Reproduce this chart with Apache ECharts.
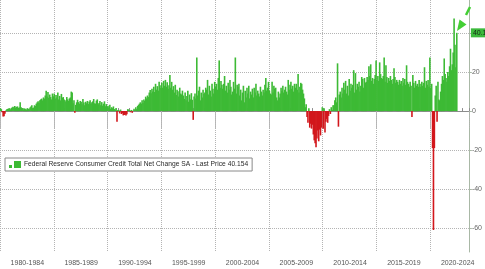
<!DOCTYPE html>
<html><head><meta charset="utf-8">
<script src="https://cdn.jsdelivr.net/npm/echarts@6/dist/echarts.min.js"></script>
<style>html,body{margin:0;padding:0;background:#fff}#c{width:485px;height:269px}</style>
</head><body><div id="c"></div>
<script>
const seriesName = 'Federal Reserve Consumer Credit Total Net Change SA - Last Price 40.154';
const periodLabels = ['1980-1984','1985-1989','1990-1994','1995-1999','2000-2004','2005-2009','2010-2014','2015-2019','2020-2024'];
const startYear = 1980;
const axisMonthCount = 523;
const lastPrice = 40.154;

// monthly net change, billions USD
const c1980_84 = [
  1.5, 1.0, -0.6, -2.8, -2.6, -1.4, 0.3, 0.9, 1.1, 1.3, 1.5, 0.9,
  1.4, 1.8, 2.2, 1.9, 2.6, 1.8, 2.2, 2.4, 1.6, 1.9, 4.6, 2.0,
  1.2, 1.6, 0.9, 1.4, 1.0, 0.8, 1.5, 1.2, 0.9, 1.8, 2.3, 3.0,
  1.5, 1.8, 3.0, 2.6, 3.8, 4.5, 5.0, 4.2, 5.6, 6.0, 6.4, 5.5,
  7.0, 6.4, 8.0, 10.5, 7.5, 9.8, 6.8, 8.5, 7.2, 6.0, 9.0, 7.6
];
const c1985_89 = [
  9.0, 6.5, 8.2, 7.0, 9.5, 6.0, 7.8, 5.5, 8.8, 6.8, 7.2, 6.0,
  5.5, 4.8, 7.2, 6.0, 5.2, 6.5, 7.0, 10.0, 9.5, 4.0, 5.5, -0.8,
  3.2, 4.5, 5.8, 4.6, 3.8, 5.2, 4.8, 3.5, 6.2, 4.4, 3.0, 4.8,
  4.0, 5.2, 3.6, 4.8, 5.5, 3.8, 4.5, 5.0, 6.2, 4.0, 3.8, 5.4,
  6.0, 3.5, 4.2, 5.2, 3.0, 4.6, 2.8, 3.8, 5.0, 2.5, 3.6, 2.2
];
const c1990_94 = [
  2.8, 1.8, 3.2, 1.2, 2.0, 1.5, 2.4, 1.0, 0.8, 1.6, -5.5, 0.6,
  0.5, -1.2, 0.8, -1.5, -1.0, -2.2, -2.0, -1.8, -2.3, -1.6, 1.0, 0.8,
  0.4, -0.6, 0.6, -0.9, 0.3, 1.2, 0.5, 2.0, 1.0, 2.6, 3.2, 3.8,
  4.5, 3.8, 5.6, 4.2, 6.0, 5.2, 7.4, 6.5, 8.0, 7.2, 9.5, 10.8,
  9.2, 11.5, 10.0, 12.5, 9.8, 14.0, 11.0, 12.8, 10.5, 15.0, 13.2, 11.8
];
const c1995_99 = [
  14.5, 12.0, 15.5, 13.0, 16.0, 12.5, 14.8, 11.5, 13.2, 18.5, 12.0, 15.0,
  11.0, 12.8, 9.5, 13.5, 8.2, 11.0, 10.2, 7.5, 12.0, 9.0, 8.5, 10.5,
  8.0, 6.2, 9.5, 5.5, 7.8, 10.5, 4.8, 8.5, 6.0, 9.2, 5.8, -4.5,
  7.5, 9.0, 6.5, 27.5, 8.0, 10.5, 12.5, 5.5, 9.5, 7.0, 11.0, 8.8,
  9.5, 12.0, 11.0, 16.0, 8.5, 13.0, 10.5, 7.5, 14.0, 11.5, 9.0, 15.0
];
const c2000_04 = [
  12.5, 14.0, 11.0, 17.0, 26.0, 12.0, 15.5, 13.5, 11.5, 14.0, 18.0, 10.5,
  13.0, 9.5, 14.5, 11.0, 16.0, 12.5, 8.5, 10.0, 15.0, 11.5, 27.5, 9.0,
  13.5, 12.5, 14.0, 8.0, 11.0, 5.5, 9.5, 13.0, 4.5, 10.5, 7.0, 12.0,
  9.0, 13.0, 6.5, 10.0, 8.5, 11.5, 7.0, 12.0, 9.5, 14.0, 8.0, 10.5,
  9.0, 7.5, 12.5, 10.0, 8.0, 11.0, 9.5, 13.5, 17.0, 10.5, 12.0, 15.0
];
const c2005_09 = [
  10.5, 9.0, 8.5, 15.0, 9.5, 13.0, 11.5, 12.0, 7.0, 5.5, 10.0, 7.0,
  9.0, 12.0, 10.5, 13.0, 9.5, 11.0, 12.5, 10.0, 8.5, 16.0, 11.0, 13.5,
  15.0, 11.5, 13.0, 10.0, 14.0, 12.0, 14.0, 11.0, 19.0, 9.5, 12.5, 14.5,
  14.0, 11.0, 9.0, 6.5, 2.0, 3.5, -3.0, -6.0, 1.5, -8.5, -6.5, -9.0,
  -7.0, -12.0, -15.0, -16.5, -18.5, -14.0, -10.0, -15.5, -9.5, -12.5, -8.5, 2.0
];
const c2010_14 = [
  -9.0, 1.5, -11.0, -5.5, -4.0, -6.0, -2.5, 1.0, -1.5, 2.0, 0.5, 3.0,
  3.0, 5.5, 7.0, 4.5, 24.5, -8.0, 8.5, 10.0, 7.0, 12.0, 9.0, 14.5,
  11.0, 15.5, 9.0, 13.0, 8.0, 16.5, 10.5, 14.0, 12.0, 13.5, 21.0, 9.5,
  19.5, 11.0, 14.0, 12.5, 15.0, 10.0, 13.0, 17.5, 16.5, 12.0, 17.0, 14.5,
  15.0, 17.5, 16.0, 23.0, 18.0, 24.0, 15.5, 17.0, 14.0, 16.5, 18.5, 26.0
];
const c2015_19 = [
  16.0, 18.0, 15.5, 25.0, 19.0, 17.0, 16.5, 18.0, 27.5, 15.0, 23.5, 17.5,
  14.5, 17.0, 15.5, 18.0, 16.0, 14.0, 16.5, 22.0, 17.5, 14.5, 16.0, 15.0,
  13.5, 16.0, 14.0, 15.5, 13.0, 17.0, 14.5, 16.5, 13.5, 23.5, 15.0, 14.0,
  12.5, 15.0, 13.0, -3.0, 18.5, 14.5, 12.0, 15.5, 13.0, 14.0, 12.5, 16.0,
  14.0, 12.5, 15.0, 13.0, 14.5, 22.5, 12.0, 15.5, 13.5, 16.0, 12.5, 27.5
];
const c2020_22 = [
  12.0, 14.0, -19.0, -61.0, -19.0, 8.0, 13.0, -5.5, 15.0, 6.0, 5.5, 10.0,
  14.0, 18.0, 16.0, 27.0, 19.0, 17.0, 15.0, 20.0, 18.0, 23.0, 32.0, 21.0,
  24.0, 30.0, 47.5, 34.0, 22.5, 40.154
];

const GREEN = '#3dba35';
const RED = '#d2171c';
const GRID_LINE = '#b4b4b4';
const FONT = '"Liberation Sans", Arial, sans-serif';

const months = [];
for (let i = 0; i < axisMonthCount; i++) {
  months.push((startYear + Math.floor(i / 12)) + '-' + String(i % 12 + 1).padStart(2, '0'));
}
const values = [].concat(c1980_84, c1985_89, c1990_94, c1995_99, c2000_04, c2005_09, c2010_14, c2015_19, c2020_22);
const barData = values.map(v => v < 0 ? { value: v, itemStyle: { color: RED } } : v);

const chart = echarts.init(document.getElementById('c'), null, { renderer: 'canvas' });
const gridRect = { left: -2, right: 16, top: 0, bottom: 17 };

chart.setOption({
  animation: false,
  backgroundColor: '#ffffff',
  textStyle: { fontFamily: FONT },
  grid: [Object.assign({}, gridRect), Object.assign({}, gridRect)],
  legend: {
    left: 5, top: 158,
    padding: [3, 4, 3, 4],
    itemWidth: 12, itemHeight: 7, itemGap: 3,
    icon: 'path://M0,4h3v3h-3z M5,0h7v7h-7z',
    backgroundColor: '#ffffff',
    borderColor: '#8a8a8a', borderWidth: 1,
    textStyle: { fontSize: 6.7, color: '#2a2a2a', fontFamily: FONT, padding: [0, 0, 0, -2] },
    data: [{ name: seriesName, itemStyle: { color: GREEN } }],
    z: 10
  },
  xAxis: [{
    type: 'category', gridIndex: 0, data: months, boundaryGap: true,
    axisLine: { show: true, lineStyle: { color: '#8c8c8c', width: 1 } },
    axisTick: { show: true, inside: false, length: 17, interval: (i) => i % 60 === 0,
      lineStyle: { color: GRID_LINE, type: 'dotted' } },
    axisLabel: { show: true, interval: (i) => i % 60 === 30, margin: 8,
      fontSize: 7, color: '#555', fontFamily: FONT,
      formatter: (v, i) => periodLabels[Math.floor(i / 60)] },
    splitLine: { show: true, interval: (i) => i % 60 === 0,
      lineStyle: { color: GRID_LINE, type: 'dotted', width: 1 } }
  }, {
    type: 'category', gridIndex: 1, data: months, boundaryGap: true,
    axisLine: { show: false },
    axisTick: { show: true, inside: true, length: 3, interval: (i) => i % 12 === 0,
      lineStyle: { color: '#8c8c8c' } },
    axisLabel: { show: false },
    splitLine: { show: false }
  }],
  yAxis: [{
    type: 'value', gridIndex: 0, position: 'right',
    min: -72.3, max: 57, splitNumber: 6, minInterval: 20, maxInterval: 20,
    axisLine: { show: true, lineStyle: { color: '#a9b8a6' } },
    axisTick: { show: true, length: 3, lineStyle: { color: '#a9b8a6' } },
    axisLabel: { show: true, fontSize: 7, color: '#666', margin: 3, fontFamily: FONT,
      showMinLabel: false, showMaxLabel: false },
    splitLine: { show: true, showMinLine: false, showMaxLine: false,
      lineStyle: { color: GRID_LINE, type: 'dotted', width: 1 } }
  }, {
    type: 'value', gridIndex: 1, min: -72.3, max: 57, show: false
  }],
  series: [{
    name: seriesName, type: 'bar', xAxisIndex: 0, yAxisIndex: 0,
    data: barData, barWidth: 1.6,
    itemStyle: { color: GREEN },
    z: 3,
    markLine: {
      silent: true, symbol: 'none', animation: false,
      lineStyle: { width: 0, color: 'rgba(0,0,0,0)', type: 'solid' },
      label: { show: true, position: 'end', distance: 2, formatter: String(lastPrice),
        backgroundColor: '#3cb93c', color: '#142814', fontSize: 7, padding: [1, 2, 1, 2],
        fontFamily: FONT, opacity: 1 },
      data: [{ yAxis: lastPrice }]
    }
  }],
  graphic: [{
    type: 'line', z: 20,
    shape: { x1: 470, y1: 7, x2: 466, y2: 15 },
    style: { stroke: '#43cf34', lineWidth: 2.5 }
  }, {
    type: 'polygon', z: 20,
    shape: { points: [[457, 31], [466.5, 24.5], [459.5, 19.5]] },
    style: { fill: '#43cf34' }
  }]
});
</script>
</body></html>
